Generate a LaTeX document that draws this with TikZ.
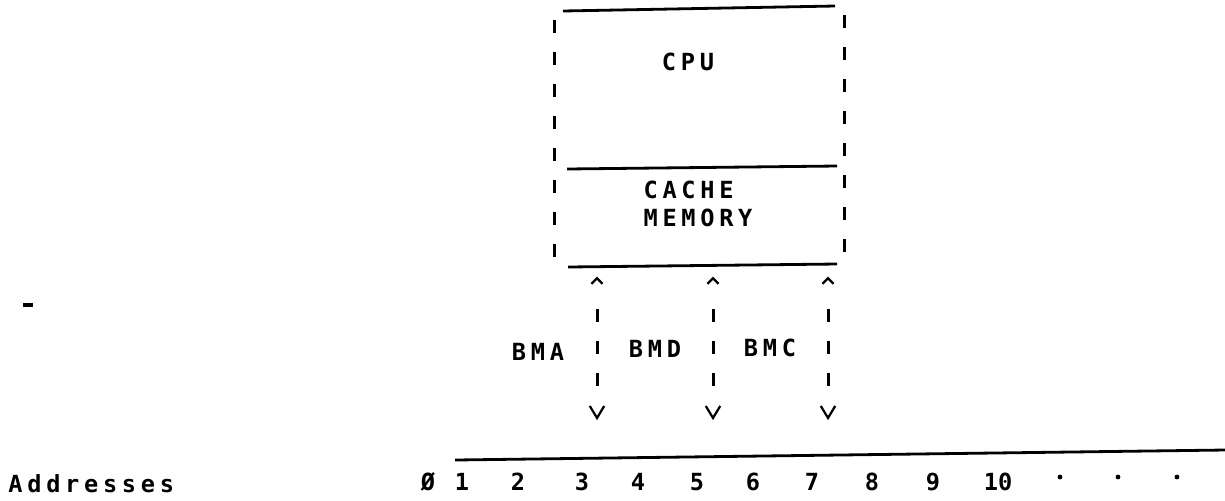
\documentclass[tikz,border=0pt]{standalone}
\usepackage{fontspec}
\setmainfont{DejaVu Sans Mono}[LetterSpace=20]
\begin{document}
\begin{tikzpicture}[x=0.5pt,y=-0.5pt,
  lbl/.style={inner sep=0pt, font=\fontsize{11.8}{14}\selectfont\bfseries, anchor=center},
  num/.style={lbl, font=\fontsize{11.8}{14}\selectfont\bfseries\addfontfeature{LetterSpace=0}},
  solidline/.style={line width=1.4pt},
  dline/.style={line width=1.5pt, dash pattern=on 6.5pt off 9.5pt},
  tip/.style={line width=1.1pt, line join=miter}]
\useasboundingbox (0,0) rectangle (1225,500);
% box lines
\coordinate (tl) at (563,11); \coordinate (tr) at (835,6);
\coordinate (ml) at (567,169); \coordinate (mr) at (837,166);
\coordinate (bl) at (568,267); \coordinate (br) at (837,264);
\draw[solidline] (tl) -- (tr);
\draw[solidline] (ml) -- (mr);
\draw[solidline] (bl) -- (br);
\coordinate (lt) at (554,20); \coordinate (lb) at (554,262);
\coordinate (rt) at (844,15); \coordinate (rb) at (844,260);
\draw[dline] (lt) -- (lb);
\draw[dline] (rt) -- (rb);
\node[lbl] (cpu) at (688,62) {CPU};
\node[lbl, align=left] (cache) at (698,204) {CACHE\\MEMORY};
% connectors
\foreach \n/\x in {a/597, d/713, c/828}{
  \coordinate (u\n) at (\x,281);
  \coordinate (s\n) at (\x,309);
  \coordinate (e\n) at (\x,392);
  \coordinate (v\n) at (\x,412);
  \draw[dline, dash phase=0pt] (s\n) -- (e\n);
  \draw[tip] ([xshift=-2.8pt,yshift=-1.4pt]u\n) -- ([yshift=1.4pt]u\n) -- ([xshift=2.8pt,yshift=-1.4pt]u\n);
  \draw[tip] ([xshift=-3.6pt,yshift=3pt]v\n) -- ([yshift=-3pt]v\n) -- ([xshift=3.6pt,yshift=3pt]v\n);
}
\node[lbl] (bma) at (538,352) {BMA};
\node[lbl] (bmd) at (655,349) {BMD};
\node[lbl] (bmc) at (770,348) {BMC};
% address line
\coordinate (al) at (455,460); \coordinate (ar) at (1225,450);
\draw[solidline] (al) -- (ar);
\node[num] (zero) at (428,482) {Ø};
\foreach \t/\x in {1/462,2/518,3/582,4/638,5/697,6/753,7/812,8/872,9/933,10/998}{
  \node[num] (n\t) at (\x,482) {\t};
}
\foreach \i/\x in {1/1060,2/1118,3/1177}{
  \fill (\x,477) circle (1.2pt);
}
\node[lbl, anchor=west] (addr) at (8,484) {Addresses};
\draw[line width=1.6pt] (23,305) -- (33,305);
\end{tikzpicture}
\end{document}
